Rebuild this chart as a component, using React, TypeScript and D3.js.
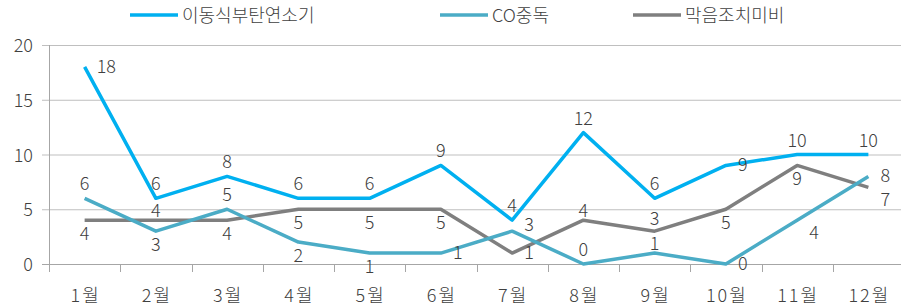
import React, { useEffect, useRef } from "react";
import * as d3 from "d3";

const months = ["1월", "2월", "3월", "4월", "5월", "6월", "7월", "8월", "9월", "10월", "11월", "12월"];
const seriesNames = ["이동식부탄연소기", "CO중독", "막음조치미비"];
const butaneValues = [18, 6, 8, 6, 6, 9, 4, 12, 6, 9, 10, 10];
const coValues = [6, 3, 5, 2, 1, 1, 3, 0, 1, 0, 4, 8];
const blockValues = [4, 4, 4, 5, 5, 5, 1, 4, 3, 5, 9, 7];
const yTicks = [0, 5, 10, 15, 20];

// where each data label sits relative to its point
const butaneLabelPos = ["right", "above", "above", "above", "above", "above", "above", "above", "above", "right", "above", "above"];
const coLabelPos = ["above", "below", "above", "below", "below", "right", "rightabove", "above", "abovenear", "right", "rightbelow", "right"];
const blockLabelPos = ["below", "abovenear", "below", "below", "below", "below", "right", "abovenear", "abovemid", "below", "below", "rightbelow"];

const colors = ["#00B0F0", "#4BACC6", "#7F7F7F"];
const FONT = "'Noto Sans CJK KR', 'Noto Sans', sans-serif";

const App = () => {
  const ref = useRef<SVGSVGElement>(null);

  useEffect(() => {
    const svg = d3.select(ref.current);
    svg.selectAll("*").remove();

    const left = 49, right = 904, top = 45, bottom = 264;
    const x = d3.scaleBand().domain(months).range([left, right]);
    const y = d3.scaleLinear().domain([0, 20]).range([bottom, top]);
    const textColor = "#404040";
    const fs = 18;

    // gridlines
    svg.append("g")
      .selectAll("line")
      .data(yTicks)
      .enter()
      .append("line")
      .attr("x1", left - 7)
      .attr("x2", 901)
      .attr("y1", (d) => y(d) + 0.5)
      .attr("y2", (d) => y(d) + 0.5)
      .attr("stroke", (d) => (d === 0 ? "#A6A6A6" : "#BFBFBF"))
      .attr("stroke-width", 1);

    // y axis line
    svg.append("line")
      .attr("x1", left + 0.5).attr("x2", left + 0.5)
      .attr("y1", top).attr("y2", bottom + 8)
      .attr("stroke", "#A6A6A6");

    // x ticks
    const bounds = months.map((m) => x(m)! + x.bandwidth());
    svg.append("g")
      .selectAll("line")
      .data(bounds)
      .enter()
      .append("line")
      .attr("x1", (d) => Math.round(d) + 0.5)
      .attr("x2", (d) => Math.round(d) + 0.5)
      .attr("y1", bottom)
      .attr("y2", bottom + 8)
      .attr("stroke", "#A6A6A6");

    // y tick labels
    svg.append("g")
      .selectAll("text")
      .data(yTicks)
      .enter()
      .append("text")
      .attr("x", 33)
      .attr("y", (d) => y(d) + 7)
      .attr("text-anchor", "end")
      .attr("font-family", FONT)
      .attr("font-weight", 300)
      .attr("font-size", fs)
      .attr("fill", textColor)
      .text((d) => d);

    // x labels
    svg.append("g")
      .selectAll("text")
      .data(months)
      .enter()
      .append("text")
      .attr("x", (d) => x(d)! + x.bandwidth() / 2 + 1)
      .attr("y", 302)
      .attr("text-anchor", "middle")
      .attr("font-family", FONT)
      .attr("font-weight", 300)
      .attr("font-size", fs)
      .attr("letter-spacing", "2px")
      .attr("fill", textColor)
      .text((d) => d);

    const allSeries = [
      { values: butaneValues, pos: butaneLabelPos },
      { values: coValues, pos: coLabelPos },
      { values: blockValues, pos: blockLabelPos },
    ];
    const line = d3.line<number>()
      .x((d, i) => x(months[i])! + x.bandwidth() / 2)
      .y((d) => y(d));

    // gray first, then CO, then butane on top
    [2, 1, 0].forEach((si) => {
      svg.append("path")
        .attr("d", line(allSeries[si].values))
        .attr("fill", "none")
        .attr("stroke", colors[si])
        .attr("stroke-width", 3.5)
        .attr("stroke-linejoin", "round");
    });

    const offsets: Record<string, [number, number, string]> = {
      above: [0, -8, "middle"],
      abovemid: [0, -6, "middle"],
      abovenear: [0, -3, "middle"],
      below: [0, 20, "middle"],
      right: [12, 6, "start"],
      rightabove: [12, 0, "start"],
      rightbelow: [12, 19, "start"],
    };
    allSeries.forEach((s) => {
      svg.append("g")
        .selectAll("text")
        .data(s.values)
        .enter()
        .append("text")
        .attr("x", (d, i) => x(months[i])! + x.bandwidth() / 2 + offsets[s.pos[i]][0])
        .attr("y", (d, i) => y(d) + offsets[s.pos[i]][1])
        .attr("text-anchor", (d, i) => offsets[s.pos[i]][2])
        .attr("font-family", FONT)
        .attr("font-weight", 300)
        .attr("font-size", fs)
        .attr("fill", textColor)
        .text((d) => d);
    });

    // legend
    const legendX = [130, 440, 633];
    const legend = svg.append("g");
    seriesNames.forEach((name, i) => {
      legend.append("line")
        .attr("x1", legendX[i]).attr("x2", legendX[i] + 48)
        .attr("y1", 15).attr("y2", 15)
        .attr("stroke", colors[i])
        .attr("stroke-width", 3.5);
      legend.append("text")
        .attr("x", legendX[i] + 52)
        .attr("y", 22)
        .attr("font-family", FONT)
        .attr("font-weight", 300)
        .attr("font-size", fs)
        .attr("fill", textColor)
        .text(name);
    });
  }, []);

  return (
    <svg
      ref={ref}
      width={901}
      height={308}
      style={{ position: "absolute", left: 0, top: 0, background: "#fff" }}
    />
  );
};

export default App;
